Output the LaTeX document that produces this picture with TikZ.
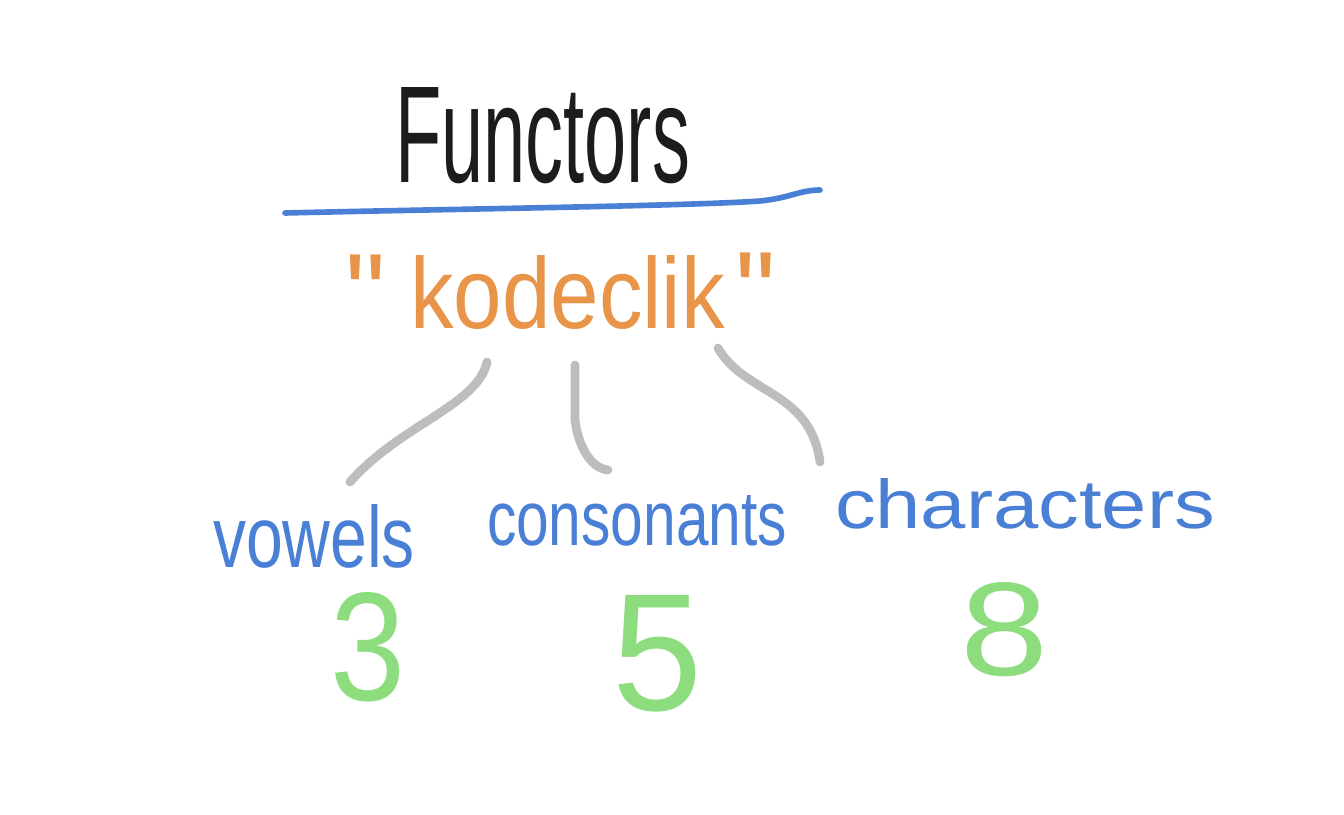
\documentclass[tikz,border=0pt]{standalone}
\usepackage{fontspec}
\usepackage{graphicx}
\setmainfont{Liberation Sans}
\definecolor{inkblack}{HTML}{1C1C1C}
\definecolor{inkblue}{HTML}{4A7FD6}
\definecolor{inkorange}{HTML}{E8954A}
\definecolor{inkgray}{HTML}{BDBDBD}
\definecolor{inkgreen}{HTML}{8DDC7E}
\tikzset{
  txt/.style={anchor=base west, inner sep=0pt, outer sep=0pt},
  quot/.style={anchor=base west, inner sep=0pt, outer sep=0pt, text=inkorange, font=\fontsize{65}{65}\selectfont},
  link/.style={draw=inkgray, line width=5pt, line cap=round},
  rule/.style={draw=inkblue, line width=3.2pt, line cap=round}
}
\begin{document}
\begin{tikzpicture}[x=0.02cm,y=-0.02cm]
\useasboundingbox[fill=white] (0,0) rectangle (1344,814);
% title
\node[txt, text=inkblack] (title) at (395,183) {\resizebox{5.9cm}{1.9cm}{Functors}};
\coordinate (ulA) at (285,213);
\coordinate (ulB) at (820,190);
\draw[rule] (ulA) .. controls (450,209) and (690,206) .. (760,201) .. controls (790,198) and (800,190) .. (ulB);
% word
\node[quot] (lq) at (345,333) {\textquotedbl};
\node[txt, text=inkorange] (word) at (410,328) {\resizebox{6.3cm}{1.46cm}{kodeclik}};
\node[quot] (rq) at (735,331) {\textquotedbl};
% links
\coordinate (a1) at (487,362);
\coordinate (a2) at (350,482);
\coordinate (b1) at (575,365);
\coordinate (b2) at (608,470);
\coordinate (c1) at (718,348);
\coordinate (c2) at (820,462);
\draw[link] (a1) .. controls (478,405) and (400,425) .. (a2);
\draw[link] (b1) -- (575,420) .. controls (578,445) and (590,468) .. (b2);
\draw[link] (c1) .. controls (745,395) and (810,390) .. (c2);
% labels
\node[txt, text=inkblue] (vow) at (213,567) {\resizebox{4.04cm}{1.26cm}{vowels}};
\node[txt, text=inkblue] (con) at (487,545) {\resizebox{6cm}{1.0cm}{consonants}};
\node[txt, text=inkblue] (chr) at (835,528) {\resizebox{7.6cm}{1.0cm}{characters}};
% numbers
\node[txt, text=inkgreen] (n3) at (330,700) {\resizebox{1.5cm}{2.16cm}{3}};
\node[txt, text=inkgreen] (n5) at (612,710) {\resizebox{1.8cm}{2.3cm}{5}};
\node[txt, text=inkgreen] (n8) at (960,675) {\resizebox{1.76cm}{1.86cm}{8}};
\end{tikzpicture}
\end{document}
